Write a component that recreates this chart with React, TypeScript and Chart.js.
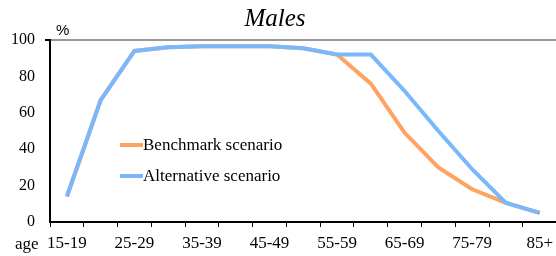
import React, { useEffect, useRef } from "react";
import { Chart, registerables } from "chart.js";

Chart.register(...registerables);

const categories = ["15-19", "20-24", "25-29", "30-34", "35-39", "40-44", "45-49", "50-54", "55-59", "60-64", "65-69", "70-74", "75-79", "80-84", "85+"];
const benchmark = [14, 67, 94, 96, 96.5, 96.5, 96.5, 95.5, 92, 76, 49, 30, 18, 10.5, 5];
const alternative = [14, 67, 94, 96, 96.5, 96.5, 96.5, 95.5, 92, 92, 72, 50, 29, 10.5, 5];
const yTicks = [0, 20, 40, 60, 80, 100];
const seriesNames = ["Benchmark scenario", "Alternative scenario"];
const seriesColors = ["#FFA262", "#79B8FC"];
const titleText = "Males";
const yUnit = "%";
const xName = "age";

const SERIF = "'Liberation Serif', 'Times New Roman', serif";

const decor = {
  id: "decor",
  afterDraw(chart: any) {
    const ctx = chart.ctx;
    const area = chart.chartArea;
    ctx.save();
    ctx.fillStyle = "#000";
    ctx.font = `italic 25px ${SERIF}`;
    ctx.textAlign = "center";
    ctx.textBaseline = "alphabetic";
    ctx.fillText(titleText, 275, 26);
    ctx.font = `15px 'Liberation Sans', sans-serif`;
    ctx.textAlign = "left";
    ctx.fillText(yUnit, 56, 35);
    ctx.font = `17px ${SERIF}`;
    ctx.textBaseline = "middle";
    ctx.fillText(xName, 15, 245);
    // legend
    const ys = [145, 176];
    seriesNames.forEach((name, i) => {
      ctx.strokeStyle = seriesColors[i];
      ctx.lineWidth = 4;
      ctx.beginPath();
      ctx.moveTo(area.left + 70, ys[i]);
      ctx.lineTo(area.left + 93, ys[i]);
      ctx.stroke();
      ctx.fillStyle = "#000";
      ctx.font = `17px ${SERIF}`;
      ctx.textAlign = "left";
      ctx.textBaseline = "middle";
      ctx.fillText(name, area.left + 93, ys[i] + 1);
    });
    ctx.restore();
  },
};

export default function App() {
  const ref = useRef<HTMLCanvasElement>(null);
  useEffect(() => {
    const chart = new Chart(ref.current!, {
      type: "line",
      data: {
        labels: categories,
        datasets: [
          { label: seriesNames[0], data: benchmark, borderColor: seriesColors[0], backgroundColor: seriesColors[0], borderWidth: 4, pointRadius: 0, tension: 0, order: 1 },
          { label: seriesNames[1], data: alternative, borderColor: seriesColors[1], backgroundColor: seriesColors[1], borderWidth: 4, pointRadius: 0, tension: 0, order: 0 },
        ],
      },
      options: {
        animation: false,
        responsive: true,
        maintainAspectRatio: false,
        layout: { padding: { top: 40, left: 0, right: 0, bottom: 0 } },
        plugins: { legend: { display: false }, tooltip: { enabled: false }, title: { display: false } },
        scales: {
          x: {
            type: "category",
            offset: true,
            grid: { offset: true, color: "transparent", tickColor: "#000", tickLength: 5, drawOnChartArea: false },
            border: { color: "#000", width: 2 },
            ticks: {
              autoSkip: false,
              maxRotation: 0,
              color: "#000",
              font: { family: SERIF, size: 17 },
              padding: 6,
              callback: (v: any, i: number) => (i % 2 === 0 ? categories[i] : ""),
            },
            afterFit: (s: any) => { s.height = 34; },
          },
          y: {
            min: 0,
            max: 100,
            afterBuildTicks: (s: any) => { s.ticks = yTicks.map((v) => ({ value: v })); },
            grid: {
              color: (c: any) => (c.tick && c.tick.value === 100 ? "#999" : "transparent"),
              lineWidth: (c: any) => (c.tick && c.tick.value === 100 ? 2 : 0),
              tickColor: "#000",
              tickLength: 5,
            },
            border: { color: "#000", width: 2 },
            ticks: { color: "#000", font: { family: SERIF, size: 16 }, padding: 10 },
            afterFit: (s: any) => { s.width = 50; },
          },
        },
      },
      plugins: [decor],
    });
    return () => chart.destroy();
  }, []);
  return (
    <div style={{ position: "fixed", left: 0, top: 0, width: 559, height: 256 }}>
      <canvas ref={ref} />
    </div>
  );
}
